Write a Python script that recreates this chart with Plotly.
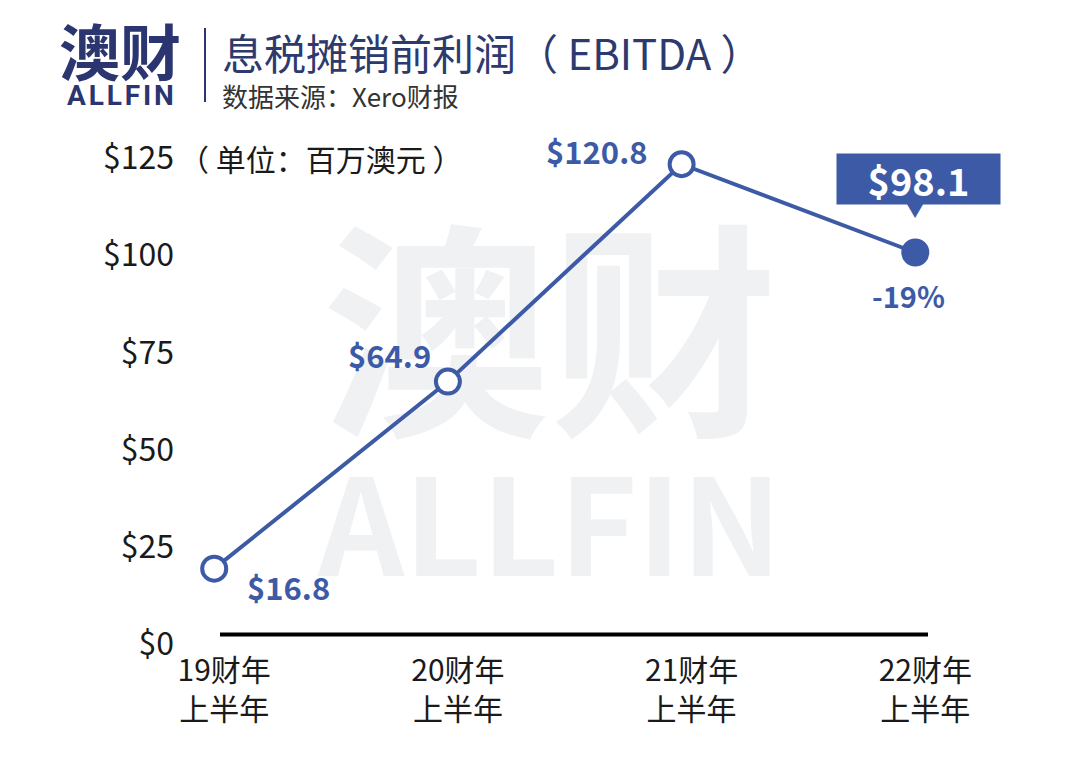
import plotly.graph_objects as go

categories = ["19财年<br>上半年", "20财年<br>上半年", "21财年<br>上半年", "22财年<br>上半年"]
ebitda = [16.8, 64.9, 120.8, 98.1]
value_labels = ["$16.8", "$64.9", "$120.8", "$98.1"]
change_label = "-19%"
y_ticks = [0, 25, 50, 75, 100, 125]
y_tick_text = ["$0", "$25", "$50", "$75", "$100", "$125"]

BLUE = "#3d5aa6"
NAVY = "#2b3570"
CJK = "Noto Sans CJK SC"

x_idx = list(range(len(categories)))

# plot area geometry (pixels)
PL, PR, PT, PB = 180, 960, 109, 634
def px(xp):
    return (xp - PL) / (PR - PL)
def py(yp):
    return (PB - yp) / (PB - PT)

fig = go.Figure()

# watermark (below data)
fig.add_trace(go.Scatter(
    x=[1.437, 1.437], y=[70.0, 23.5], mode="text",
    text=["澳财", "ALLFIN"],
    textfont=dict(family=CJK, size=[228, 134], color="#f0f1f3", weight="bold"),
    hoverinfo="skip", showlegend=False, cliponaxis=False,
))

# baseline (decorative axis line)
fig.add_shape(type="line", xref="paper", yref="paper", x0=px(220), x1=px(928), y0=py(634.5), y1=py(634.5),
              line=dict(color="black", width=4), layer="below")

# line
fig.add_trace(go.Scatter(
    x=x_idx, y=ebitda, mode="lines+markers",
    line=dict(color=BLUE, width=4),
    marker=dict(size=24, opacity=1, color=["white", "white", "white", BLUE],
                line=dict(color=BLUE, width=4)),
    cliponaxis=False, showlegend=False, hoverinfo="x+y",
))

annotations = []
shifts = [(74, -18), (-58, 27), (-85, 14)]
for i, (dx, dy) in enumerate(shifts):
    annotations.append(dict(
        x=x_idx[i], y=ebitda[i], xref="x", yref="y", text=value_labels[i],
        showarrow=False, xshift=dx, yshift=dy, xanchor="center", yanchor="middle",
        font=dict(family=CJK, size=31, color=BLUE, weight="bold"),
    ))
annotations.append(dict(
    x=x_idx[3], y=ebitda[3], xref="x", yref="y", text=change_label,
    showarrow=False, xshift=-7, yshift=-42, xanchor="center", yanchor="middle",
    font=dict(family=CJK, size=29, color=BLUE, weight="bold"),
))
annotations.append(dict(
    x=x_idx[3], y=ebitda[3], xref="x", yref="y", text=value_labels[3],
    showarrow=False, xshift=3, yshift=74, width=163, height=50, borderpad=0,
    xanchor="center", yanchor="middle",
    bgcolor=BLUE, font=dict(family=CJK, size=38, color="white", weight="bold"),
))
annotations.append(dict(
    x=x_idx[3], y=ebitda[3], xref="x", yref="y", text="▼",
    showarrow=False, xshift=0, yshift=44, xanchor="center", yanchor="middle",
    font=dict(family=CJK, size=20, color=BLUE),
))
annotations.append(dict(
    x=px(177), y=125, xref="paper", yref="y", text="（ 单位：百万澳元 ）",
    xanchor="left", yanchor="middle", showarrow=False, yshift=-10,
    font=dict(family=CJK, size=30, color="#1a1a1a"),
))
annotations += [
    dict(x=px(120), y=py(50), xref="paper", yref="paper", text="澳财", showarrow=False,
         xanchor="center", yanchor="middle",
         font=dict(family=CJK, size=61, color=NAVY, weight="bold")),
    dict(x=px(120), y=py(95), xref="paper", yref="paper",
         text="A&#8202;L&#8202;L&#8202;F&#8202;I&#8202;N", showarrow=False,
         xanchor="center", yanchor="middle",
         font=dict(family="Roboto", size=28, color=NAVY, weight="bold")),
    dict(x=px(220), y=py(51), xref="paper", yref="paper", text="息税摊销前利润（ EBITDA ）",
         xanchor="left", yanchor="middle", showarrow=False,
         font=dict(family=CJK, size=42, color="#2d3a6e")),
    dict(x=px(220), y=py(95), xref="paper", yref="paper", text="数据来源：Xero财报",
         xanchor="left", yanchor="middle", showarrow=False,
         font=dict(family=CJK, size=26, color="#333333")),
]

fig.add_shape(type="line", xref="paper", yref="paper", x0=px(205), x1=px(205),
              y0=py(102), y1=py(28), line=dict(color=NAVY, width=2))

fig.update_layout(
    width=1080, height=767,
    margin=dict(l=PL, r=1080 - PR, t=PT, b=767 - PB),
    paper_bgcolor="white", plot_bgcolor="white",
    showlegend=False,
    annotations=annotations,
    xaxis=dict(
        range=[(PL - 214.2) / 233.7, (PR - 214.2) / 233.7], tickvals=x_idx, ticktext=categories,
        showgrid=False, zeroline=False, showline=False,
        ticks="", tickfont=dict(family=CJK, size=30, color="#1a1a1a"),
        ticklabelshift=10, ticklabelstandoff=16,
    ),
    yaxis=dict(
        range=[0, 135], tickvals=y_ticks, ticktext=y_tick_text,
        showgrid=False, zeroline=False, showline=False, ticks="",
        tickfont=dict(family=CJK, size=32, color="#1a1a1a"),
        ticklabelshift=10, ticklabelstandoff=5,
    ),
)

fig.write_html("out.html")
